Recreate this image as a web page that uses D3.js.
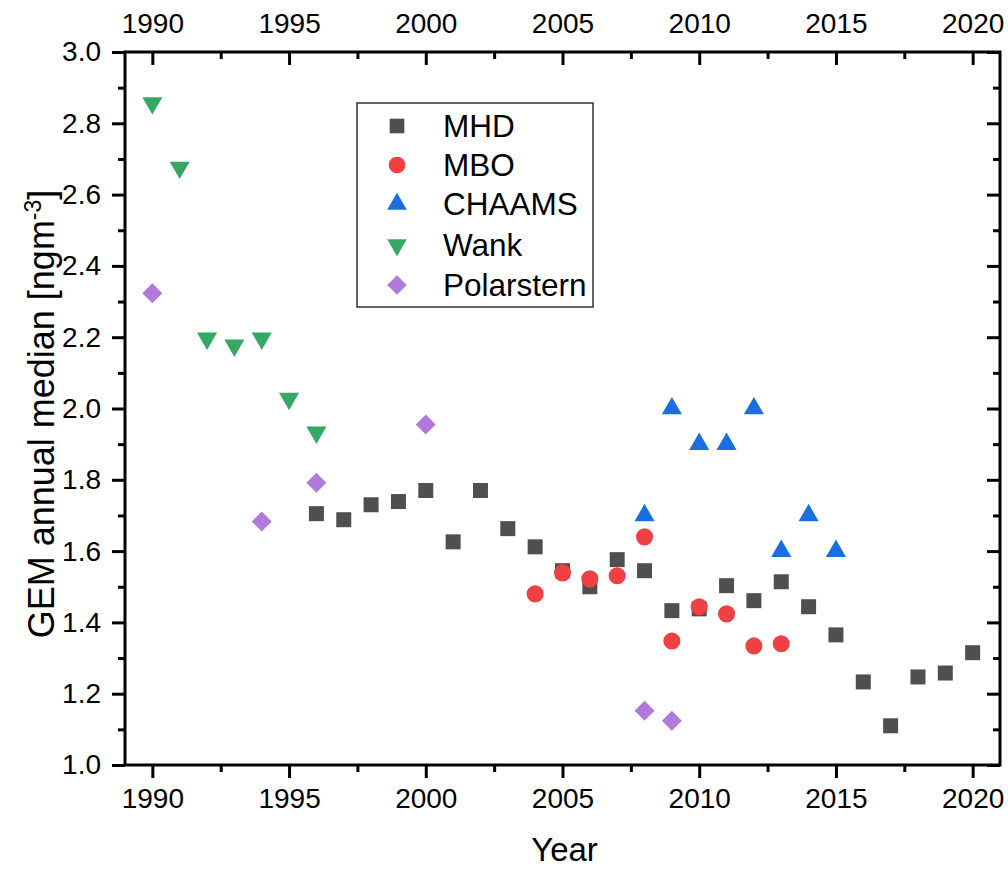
<!DOCTYPE html>
<html><head><meta charset="utf-8">
<script src="https://cdn.jsdelivr.net/npm/d3@7"></script>
<style>
body{margin:0;background:#fff;}
text{font-family:"Liberation Sans",Arial,sans-serif;fill:#000;}
</style></head>
<body><svg id="c" width="1008" height="869"></svg>
<script>
// ---- data ----
const mhdYears = [1996,1997,1998,1999,2000,2001,2002,2003,2004,2005,2006,2007,2008,2009,2010,2011,2012,2013,2014,2015,2016,2017,2018,2019,2020];
const mhdValues = [1.705,1.688,1.730,1.739,1.770,1.626,1.770,1.663,1.612,1.545,1.500,1.576,1.545,1.433,1.438,1.503,1.461,1.514,1.444,1.365,1.233,1.110,1.247,1.258,1.315];
const mboYears = [2004,2005,2006,2007,2008,2009,2010,2011,2012,2013];
const mboValues = [1.480,1.539,1.522,1.531,1.640,1.348,1.444,1.424,1.334,1.340];
const chaamsYears = [2008,2009,2010,2011,2012,2013,2014,2015];
const chaamsValues = [1.70,2.00,1.90,1.90,2.00,1.60,1.70,1.60];
const wankYears = [1990,1991,1992,1993,1994,1995,1996];
const wankValues = [2.857,2.676,2.197,2.177,2.197,2.028,1.933];
const polarYears = [1990,1994,1996,2000,2008,2009];
const polarValues = [2.323,1.683,1.792,1.955,1.152,1.124];
const seriesNames = ["MHD","MBO","CHAAMS","Wank","Polarstern"];
const xMajorTicks = [1990,1995,2000,2005,2010,2015,2020];
const xMinorTicks = [1992.5,1997.5,2002.5,2007.5,2012.5,2017.5];
const yMajorTicks = [1.0,1.2,1.4,1.6,1.8,2.0,2.2,2.4,2.6,2.8,3.0];
const yMinorTicks = [1.1,1.3,1.5,1.7,1.9,2.1,2.3,2.5,2.7,2.9];

// ---- styles ----
const colors = {MHD:"#4f4f4f",MBO:"#ef4043",CHAAMS:"#1a6ee0",Wank:"#37a863",Polarstern:"#b07adc"};
const series = [
  {name:"MHD", years:mhdYears, values:mhdValues, shape:d3.symbolSquare, size:225, rot:0},
  {name:"MBO", years:mboYears, values:mboValues, shape:d3.symbolCircle, size:230, rot:0},
  {name:"CHAAMS", years:chaamsYears, values:chaamsValues, shape:d3.symbolTriangle, size:175, rot:0},
  {name:"Wank", years:wankYears, values:wankValues, shape:d3.symbolTriangle, size:175, rot:180},
  {name:"Polarstern", years:polarYears, values:polarValues, shape:d3.symbolSquare, size:200, rot:45}
];

const svg = d3.select("#c");
const L=125, R=1000, T=52, B=765;
const x = d3.scaleLinear().domain([1989,2021]).range([L,R]);
const y = d3.scaleLinear().domain([1.0,3.0]).range([B,T]);

function styleAxis(g, fs){
  g.select(".domain").remove();
  g.selectAll("line").attr("stroke","#000").attr("stroke-width",3);
  g.selectAll("text").style("font-size",fs+"px").attr("fill","#000");
}
// bottom
svg.append("g").attr("transform",`translate(0,${B})`)
  .call(d3.axisBottom(x).tickValues(xMajorTicks).tickSize(13).tickPadding(10).tickFormat(d3.format("d")))
  .call(g=>styleAxis(g,28)).call(g=>g.selectAll("text").attr("dy","0.71em"));
svg.append("g").attr("transform",`translate(0,${B})`)
  .call(d3.axisBottom(x).tickValues(xMinorTicks).tickSize(7).tickFormat(""))
  .call(g=>styleAxis(g,28));
// top
svg.append("g").attr("transform",`translate(0,${T})`)
  .call(d3.axisTop(x).tickValues(xMajorTicks).tickSize(-13).tickPadding(19).tickFormat(d3.format("d")))
  .call(g=>styleAxis(g,28));
svg.append("g").attr("transform",`translate(0,${T})`)
  .call(d3.axisTop(x).tickValues(xMinorTicks).tickSize(-7).tickFormat(""))
  .call(g=>styleAxis(g,28));
// left
svg.append("g").attr("transform",`translate(${L},0)`)
  .call(d3.axisLeft(y).tickValues(yMajorTicks).tickSize(13).tickPadding(11).tickFormat(d3.format(".1f")))
  .call(g=>styleAxis(g,28));
svg.append("g").attr("transform",`translate(${L},0)`)
  .call(d3.axisLeft(y).tickValues(yMinorTicks).tickSize(7).tickFormat(""))
  .call(g=>styleAxis(g,28));
// right
svg.append("g").attr("transform",`translate(${R},0)`)
  .call(d3.axisRight(y).tickValues(yMajorTicks).tickSize(-13).tickFormat(""))
  .call(g=>styleAxis(g,28));
svg.append("g").attr("transform",`translate(${R},0)`)
  .call(d3.axisRight(y).tickValues(yMinorTicks).tickSize(-7).tickFormat(""))
  .call(g=>styleAxis(g,28));
// frame
svg.append("rect").attr("x",L).attr("y",T).attr("width",R-L).attr("height",B-T)
  .attr("fill","none").attr("stroke","#000").attr("stroke-width",3);

// points
series.forEach(s=>{
  const sym = d3.symbol().type(s.shape).size(s.size);
  svg.append("g").selectAll("path").data(s.years.map((yr,i)=>[yr,s.values[i]])).join("path")
    .attr("d",sym)
    .attr("transform",d=>`translate(${x(d[0])},${y(d[1])}) rotate(${s.rot})`)
    .attr("fill",colors[s.name]);
});

// axis titles
svg.append("text").attr("x",(L+R)/2+2).attr("y",861).attr("text-anchor","middle")
  .style("font-size","33px").text("Year");
const yt = svg.append("text").attr("transform","translate(54,414) rotate(-90)")
  .attr("text-anchor","middle").style("font-size","36px");
yt.append("tspan").text("GEM annual median [ngm");
yt.append("tspan").attr("dy","-13").style("font-size","23px").text("-3");
yt.append("tspan").attr("dy","13").text("]");

// legend
const lg = svg.append("g");
lg.append("rect").attr("x",357).attr("y",103).attr("width",236).attr("height",204)
  .attr("fill","#fff").attr("stroke","#333").attr("stroke-width",1.5);
const rowY = [126,165,204,245,285];
series.forEach((s,i)=>{
  const sym = d3.symbol().type(s.shape).size(s.size*0.95);
  lg.append("path").attr("d",sym)
    .attr("transform",`translate(397,${rowY[i]}) rotate(${s.rot})`)
    .attr("fill",colors[s.name]);
  lg.append("text").attr("x",443).attr("y",rowY[i]).attr("dy","0.36em")
    .style("font-size","31.5px").text(seriesNames[i]);
});
</script></body></html>
